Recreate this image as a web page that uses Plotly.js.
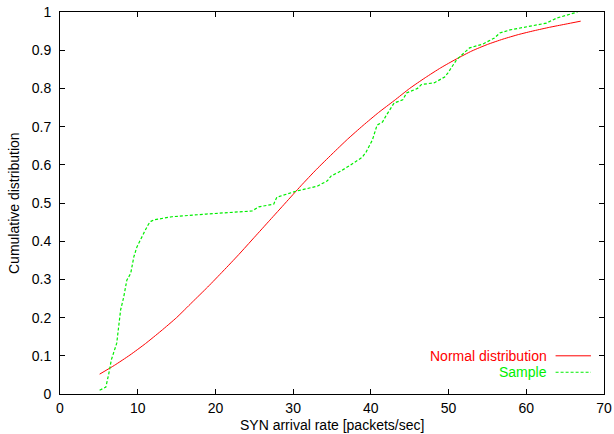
<!DOCTYPE html>
<html>
<head>
<meta charset="utf-8">
<script src="https://cdn.plot.ly/plotly-3.0.1.min.js"></script>
<style>html,body{margin:0;padding:0;background:#fff;}#chart{width:614px;height:434px;}</style>
</head>
<body>
<div id="chart"></div>
<script>
// Normal distribution fit
const normalX = [5.1, 7, 9, 11, 13, 15, 17, 19, 21, 23, 25, 27, 29, 31, 33, 35, 37, 39, 41, 43, 45, 47, 49, 51, 53, 55, 57, 59, 61, 63, 65, 67];
const normalY = [0.052, 0.075, 0.102, 0.132, 0.165, 0.200, 0.240, 0.280, 0.322, 0.365, 0.410, 0.455, 0.500, 0.545, 0.588, 0.628, 0.667, 0.703, 0.737, 0.768, 0.800, 0.828, 0.854, 0.877, 0.898, 0.915, 0.929, 0.941, 0.951, 0.960, 0.968, 0.976];

const sampleX = [5.1, 5.9, 6.3, 6.6, 7.3, 7.5, 7.8, 8.2, 8.6, 9.1, 9.5, 9.9, 10.5, 11.0, 11.4, 11.7, 12.1, 14.4, 18.8, 24.7, 25.6, 27.5, 27.9, 30.4, 33.1, 34.4, 34.9, 35.9, 37.2, 38.9, 39.4, 40.2, 40.8, 41.5, 42.0, 42.6, 43.0, 44.1, 44.6, 46.0, 46.5, 48.2, 49.5, 49.9, 51.0, 51.4, 52.7, 54.4, 55.9, 56.6, 57.9, 62.6, 63.9, 66.6];
const sampleY = [0.010, 0.018, 0.055, 0.089, 0.133, 0.175, 0.220, 0.254, 0.298, 0.316, 0.359, 0.385, 0.411, 0.430, 0.445, 0.452, 0.456, 0.464, 0.471, 0.479, 0.490, 0.497, 0.515, 0.531, 0.544, 0.558, 0.571, 0.581, 0.597, 0.620, 0.634, 0.665, 0.704, 0.712, 0.730, 0.749, 0.762, 0.770, 0.788, 0.800, 0.810, 0.815, 0.830, 0.840, 0.874, 0.882, 0.906, 0.916, 0.932, 0.945, 0.953, 0.971, 0.984, 1.0];

const xTicks = [0, 10, 20, 30, 40, 50, 60, 70];
const yTicks = [0, 0.1, 0.2, 0.3, 0.4, 0.5, 0.6, 0.7, 0.8, 0.9, 1];
const yTickText = ['0', '0.1', '0.2', '0.3', '0.4', '0.5', '0.6', '0.7', '0.8', '0.9', '1'];
const xTitle = 'SYN arrival rate [packets/sec]';
const yTitle = 'Cumulative distribution';

const RED = '#ff0000', GREEN = '#00ee00';
const font = {family: 'Liberation Sans, Arial, sans-serif', size: 14, color: '#000'};

const traces = [
  {x: normalX, y: normalY, type: 'scatter', mode: 'lines', name: 'Normal distribution',
   line: {color: RED, width: 1, shape: 'spline', smoothing: 0.6}},
  {x: sampleX, y: sampleY, type: 'scatter', mode: 'lines', name: 'Sample',
   line: {color: GREEN, width: 1.2, dash: '3px,2px'}}
];

const axisCommon = {
  showgrid: false, zeroline: false, showline: true, linecolor: '#000', linewidth: 1,
  mirror: 'ticks', ticks: 'inside', ticklen: 5, tickcolor: '#000', tickwidth: 1,
  tickfont: font
};

const layout = {
  width: 614, height: 434,
  margin: {l: 60, r: 10, t: 12, b: 40},
  paper_bgcolor: '#fff', plot_bgcolor: '#fff',
  showlegend: false,
  font: font,
  xaxis: Object.assign({}, axisCommon, {
    range: [0, 70], tickvals: xTicks, ticktext: xTicks.map(String), ticklabelstandoff: 1
  }),
  yaxis: Object.assign({}, axisCommon, {
    range: [0, 1], tickvals: yTicks, ticktext: yTickText, ticklabelstandoff: 5
  }),
  annotations: [
    {xref: 'paper', yref: 'paper', x: 0.5, y: 0, yshift: -31, xanchor: 'center', yanchor: 'middle',
     text: xTitle, showarrow: false, font: font},
    {xref: 'paper', yref: 'paper', x: 0, xshift: -46, y: 0.5, xanchor: 'center', yanchor: 'middle',
     text: yTitle, textangle: -90, showarrow: false, font: font},
    {xref: 'paper', yref: 'paper', x: 0.899, y: 0.099, xanchor: 'right', yanchor: 'middle',
     text: 'Normal distribution', showarrow: false, font: Object.assign({}, font, {color: RED})},
    {xref: 'paper', yref: 'paper', x: 0.899, y: 0.058, xanchor: 'right', yanchor: 'middle',
     text: 'Sample', showarrow: false, font: Object.assign({}, font, {color: GREEN})}
  ],
  shapes: [
    {type: 'line', xref: 'paper', yref: 'paper', x0: 0.911, x1: 0.976, y0: 0.1, y1: 0.1,
     line: {color: RED, width: 1}},
    {type: 'line', xref: 'paper', yref: 'paper', x0: 0.911, x1: 0.976, y0: 0.057, y1: 0.057,
     line: {color: GREEN, width: 1.2, dash: '3px,2px'}}
  ]
};

Plotly.newPlot('chart', traces, layout, {displayModeBar: false, staticPlot: true});
</script>
</body>
</html>
